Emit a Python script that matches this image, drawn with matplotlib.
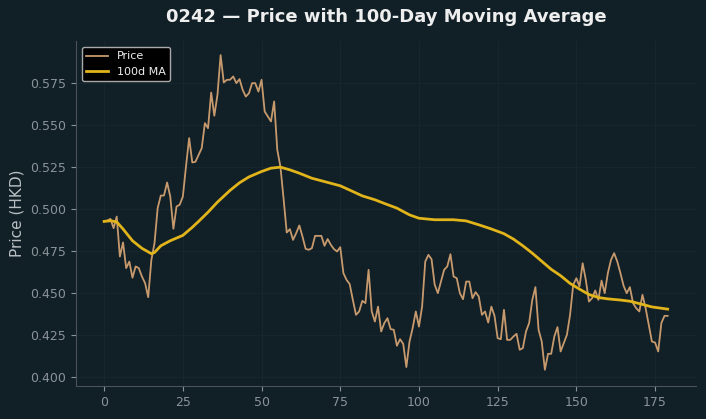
import numpy as np
import matplotlib
matplotlib.use('Agg')
import matplotlib.pyplot as plt

# daily close (day 0..179)
price = [
    0.4925, 0.4930, 0.4940, 0.4885, 0.4954, 0.4716, 0.4800, 0.4647, 0.4686, 0.4590,
    0.4657, 0.4647, 0.4597, 0.4558, 0.4474, 0.4696, 0.4796, 0.5004, 0.5079, 0.5079,
    0.5157, 0.5073, 0.4881, 0.5014, 0.5024, 0.5073, 0.5252, 0.5421, 0.5276, 0.5280,
    0.5321, 0.5361, 0.5510, 0.5480, 0.5692, 0.5554, 0.5679, 0.5915, 0.5752, 0.5768,
    0.5768, 0.5788, 0.5748, 0.5772, 0.5708, 0.5668, 0.5688, 0.5748, 0.5748, 0.5698,
    0.5768, 0.5579, 0.5550, 0.5520, 0.5639, 0.5351, 0.5250, 0.5060, 0.4859, 0.4879,
    0.4815, 0.4855, 0.4901, 0.4835, 0.4762, 0.4756, 0.4766, 0.4839, 0.4839, 0.4839,
    0.4780, 0.4820, 0.4786, 0.4760, 0.4746, 0.4772, 0.4617, 0.4577, 0.4552, 0.4458,
    0.4369, 0.4389, 0.4452, 0.4439, 0.4637, 0.4389, 0.4329, 0.4418, 0.4270, 0.4320,
    0.4349, 0.4284, 0.4280, 0.4185, 0.4224, 0.4196, 0.4058, 0.4210, 0.4290, 0.4389,
    0.4299, 0.4418, 0.4686, 0.4726, 0.4700, 0.4548, 0.4498, 0.4567, 0.4637, 0.4657,
    0.4730, 0.4597, 0.4587, 0.4498, 0.4462, 0.4567, 0.4567, 0.4468, 0.4504, 0.4478,
    0.4369, 0.4389, 0.4323, 0.4418, 0.4363, 0.4230, 0.4224, 0.4399, 0.4220, 0.4220,
    0.4240, 0.4256, 0.4161, 0.4171, 0.4270, 0.4320, 0.4458, 0.4534, 0.4280, 0.4210,
    0.4042, 0.4137, 0.4137, 0.4240, 0.4296, 0.4151, 0.4200, 0.4250, 0.4369, 0.4548,
    0.4587, 0.4538, 0.4676, 0.4577, 0.4448, 0.4468, 0.4514, 0.4458, 0.4573, 0.4498,
    0.4617, 0.4696, 0.4736, 0.4686, 0.4617, 0.4542, 0.4498, 0.4534, 0.4439, 0.4409,
    0.4389, 0.4488, 0.4409, 0.4310, 0.4210, 0.4204, 0.4151, 0.4320, 0.4363, 0.4363,
]
days = np.arange(len(price))

# 100-day moving average, sampled off the chart
ma_days = [0, 2, 4, 6, 9, 12, 15, 16, 18, 21, 25, 28, 30, 33, 36, 40, 43, 46, 50, 53,
           56, 59, 62, 66, 71, 75, 79, 82, 86, 89, 93, 97, 100, 105, 111, 115, 119, 123,
           127, 130, 133, 136, 139, 142, 145, 148, 151, 154, 157, 160, 164, 167, 170, 174, 179]
ma_vals = [0.4925, 0.4929, 0.4922, 0.4880, 0.4810, 0.4765, 0.4733, 0.4740, 0.4780, 0.4810,
           0.4842, 0.4890, 0.4925, 0.4980, 0.5040, 0.5110, 0.5155, 0.5190, 0.5222, 0.5242,
           0.5248, 0.5232, 0.5212, 0.5182, 0.5157, 0.5137, 0.5103, 0.5077, 0.5054, 0.5032,
           0.5004, 0.4964, 0.4944, 0.4935, 0.4935, 0.4928, 0.4905, 0.4880, 0.4852, 0.4820,
           0.4780, 0.4736, 0.4688, 0.4640, 0.4602, 0.4556, 0.4522, 0.4490, 0.4472, 0.4464,
           0.4457, 0.4450, 0.4436, 0.4416, 0.4403]

bg = '#111f26'
fig = plt.figure(figsize=(7.06, 4.19), dpi=100, facecolor=bg)
ax = fig.add_axes([0.1076, 0.079, 0.878, 0.822], facecolor=bg)

ax.plot(days, price, color='#c79a6e', lw=1.3, label='Price')
ax.plot(ma_days, ma_vals, color='#e0b41a', lw=2.0, label='100d MA')
ax.set_ylim(0.3946, 0.5996)

ax.grid(True, color='#17262e', lw=0.8)
ax.set_axisbelow(True)
for s in ['top', 'right']:
    ax.spines[s].set_visible(False)
for s in ['left', 'bottom']:
    ax.spines[s].set_color('#4a5359')
ax.tick_params(colors='#8a9399', labelsize=9)
ax.yaxis.set_major_formatter(matplotlib.ticker.FormatStrFormatter('%.3f'))

ax.set_ylabel('Price (HKD)', color='#b9c0c4', fontsize=11)
ax.set_title('0242 \u2014 Price with 100-Day Moving Average', color='#eeeeee',
             fontsize=13, fontweight='bold', pad=14)

leg = ax.legend(loc='upper left', facecolor='black', edgecolor='#aaaaaa',
                fontsize=8, framealpha=1)
for t in leg.get_texts():
    t.set_color('#eeeeee')

fig.savefig('out.png', dpi=100, facecolor=bg)
